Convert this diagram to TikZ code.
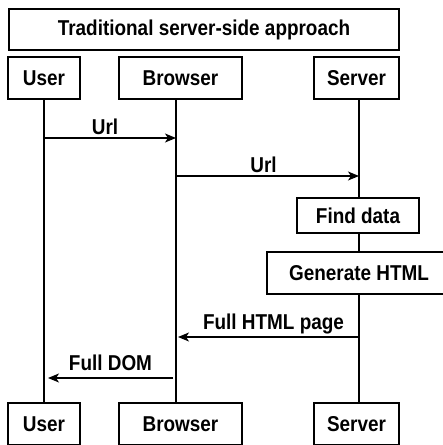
\documentclass[tikz,border=0pt]{standalone}
\usepackage{fontspec}
\newfontfamily\diagfont{Liberation Sans Bold}[FakeStretch=0.88]
\usetikzlibrary{arrows.meta}

\begin{document}
\begin{tikzpicture}[x=1pt,y=-1pt,
    every node/.style={font=\diagfont\fontsize{21.5}{25}\selectfont},
    box/.style={draw,line width=1.5pt,fill=white,inner sep=0pt},
    life/.style={line width=1.5pt},
    msg/.style={line width=1.5pt,-{Stealth[length=11pt,width=9pt,inset=3pt]}}]
    \useasboundingbox[clip] (0,0) rectangle (443,445);

    \node[box,minimum width=390pt,minimum height=41pt] (title) at (204,29.5) {Traditional server-side approach};

    % actors, top and bottom
    \node[box,minimum width=72pt,minimum height=42pt]  (U)  at (44,78)    {User};
    \node[box,minimum width=123pt,minimum height=42pt] (B)  at (180.5,78) {Browser};
    \node[box,minimum width=85pt,minimum height=42pt]  (S)  at (356.5,78) {Server};
    \node[box,minimum width=72pt,minimum height=42pt]  (U2) at (44,424)    {User};
    \node[box,minimum width=123pt,minimum height=42pt] (B2) at (180.5,424) {Browser};
    \node[box,minimum width=85pt,minimum height=42pt]  (S2) at (356.5,424) {Server};

    % lifelines
    \draw[life] (U.south) -- (U2.north);
    \draw[life] ([xshift=-4.5pt]B.south) -- ([xshift=-4.5pt]B2.north);
    \draw[life] ([xshift=2.5pt]S.south) -- ([xshift=2.5pt]S2.north);

    \node[box,minimum width=122pt,minimum height=35pt] (find) at (358,215.5) {Find data};
    \node[box,minimum width=184pt,minimum height=42pt] (gen)  at (359,273)   {Generate HTML};

    \coordinate (u1) at (44,138);
    \coordinate (b1) at (176,138);
    \coordinate (b2) at (176,176);
    \coordinate (s2) at (359,176);
    \coordinate (s3) at (359,337);
    \coordinate (b3) at (178,337);
    \coordinate (b4) at (173,378);
    \coordinate (u4) at (48,378);

    % messages
    \draw[msg] (u1) -- node[above,inner sep=3pt,xshift=-5pt] {Url} (b1);
    \draw[msg] (b2) -- node[above,inner sep=3pt,xshift=-4pt] {Url} (s2);
    \draw[msg] (s3) -- node[above,inner sep=2pt,xshift=5pt] {Full HTML page} (b3);
    \draw[msg] (b4) -- node[above,inner sep=7pt] {Full DOM} (u4);
\end{tikzpicture}
\end{document}
